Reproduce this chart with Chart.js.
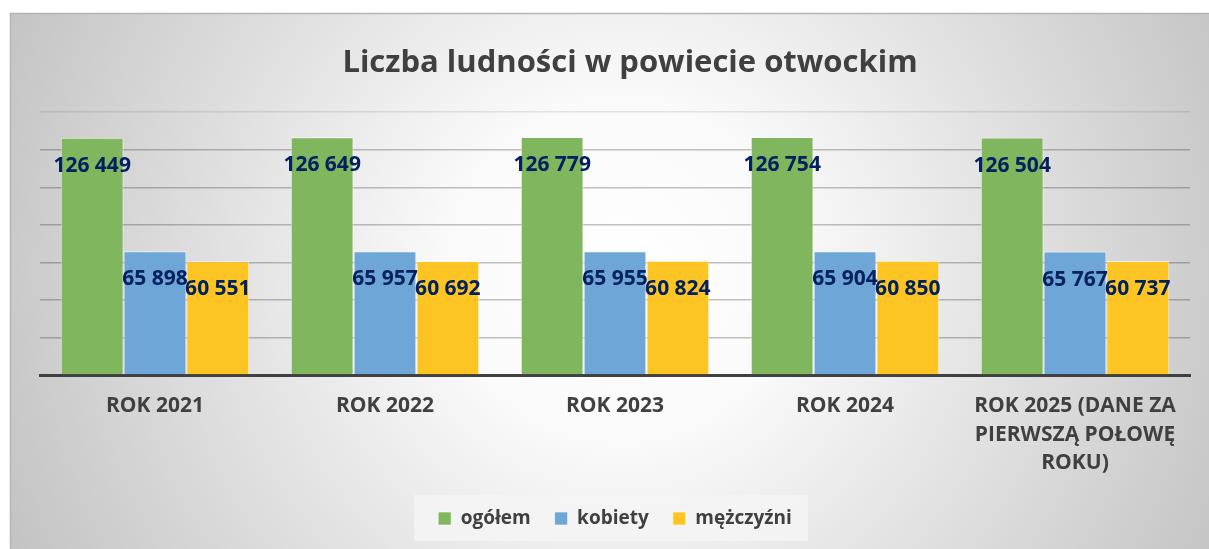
<!DOCTYPE html>
<html>
<head>
<meta charset="utf-8">
<script src="https://cdn.jsdelivr.net/npm/chart.js@4.4.1/dist/chart.umd.min.js"></script>
<style>
html,body{margin:0;padding:0;background:#ffffff;}
canvas{display:block;}
</style>
</head>
<body>
<canvas id="c" width="1209" height="549"></canvas>
<script>
// ---- data ----
const categories = ['ROK 2021', 'ROK 2022', 'ROK 2023', 'ROK 2024', ['ROK 2025 (DANE ZA', 'PIERWSZĄ POŁOWĘ', 'ROKU)']];
const seriesNames = ['ogółem', 'kobiety', 'mężczyźni'];
const ogolem = [126449, 126649, 126779, 126754, 126504];
const kobiety = [65898, 65957, 65955, 65904, 65767];
const mezczyzni = [60551, 60692, 60824, 60850, 60737];
const yMin = 0;
const yMax = 140000;
const yStep = 20000;
const titleText = 'Liczba ludności w powiecie otwockim';

const FONT = "'Open Sans', sans-serif";
Chart.defaults.font.family = FONT;

function fmt(v) {
  return String(v).replace(/\B(?=(\d{3})+(?!\d))/g, ' ');
}

const bgPlugin = {
  id: 'bgPlugin',
  beforeDraw(chart) {
    const {ctx, width, height} = chart;
    ctx.save();
    ctx.fillStyle = '#ffffff';
    ctx.fillRect(0, 0, width, height);
    const g = ctx.createRadialGradient(620, 270, 0, 620, 270, 680);
    g.addColorStop(0, '#ffffff');
    g.addColorStop(0.25, '#fafafa');
    g.addColorStop(1, '#c2c2c2');
    ctx.fillStyle = g;
    ctx.fillRect(10, 13, width - 10, height - 13);
    ctx.strokeStyle = '#b5b5b5';
    ctx.lineWidth = 1.5;
    ctx.strokeRect(10.5, 13.5, width, height);
    const lg = chart.legend;
    if (lg && lg.legendHitBoxes && lg.legendHitBoxes.length) {
      const hb = lg.legendHitBoxes;
      const l = hb[0].left - 24;
      const last = hb[hb.length - 1];
      const r = last.left + last.width + 16;
      const cy = lg.top + 33;
      ctx.fillStyle = 'rgba(244,244,244,0.85)';
      ctx.fillRect(l, cy - 23, r - l, 46);
    }
    ctx.restore();
  }
};

const titleShift = {
  id: 'titleShift',
  afterLayout(chart) {
    if (chart.titleBlock) {
      chart.titleBlock.left += 15;
      chart.titleBlock.right += 15;
    }
  }
};

const valueLabels = {
  id: 'valueLabels',
  afterDraw(chart) {
    const ctx = chart.ctx;
    ctx.save();
    ctx.font = "bold 21px " + FONT;
    ctx.fillStyle = '#002060';
    ctx.textAlign = 'center';
    ctx.textBaseline = 'middle';
    chart.data.datasets.forEach((ds, i) => {
      const meta = chart.getDatasetMeta(i);
      meta.data.forEach((bar, j) => {
        ctx.fillText(fmt(ds.data[j]), bar.x, bar.y + 28);
      });
    });
    ctx.restore();
  }
};

new Chart(document.getElementById('c'), {
  type: 'bar',
  data: {
    labels: categories,
    datasets: [
      {label: seriesNames[0], data: ogolem, backgroundColor: '#80b65e', borderColor: 'rgba(255,255,255,0.6)', borderWidth: 1},
      {label: seriesNames[1], data: kobiety, backgroundColor: '#6fa6d8', borderColor: 'rgba(255,255,255,0.6)', borderWidth: 1},
      {label: seriesNames[2], data: mezczyzni, backgroundColor: '#fcc524', borderColor: 'rgba(255,255,255,0.6)', borderWidth: 1}
    ]
  },
  options: {
    responsive: false,
    animation: false,
    devicePixelRatio: 1,
    layout: {padding: {left: 40, right: 19, top: 13, bottom: 11}},
    datasets: {bar: {categoryPercentage: 0.82, barPercentage: 1}},
    plugins: {
      title: {
        display: true,
        text: titleText,
        color: '#404040',
        font: {size: 31, weight: 'bold', family: FONT},
        padding: {top: 32, bottom: 30}
      },
      legend: {
        position: 'bottom',
        labels: {
          color: '#404040',
          font: {size: 19, weight: 'bold', family: FONT},
          boxWidth: 13,
          boxHeight: 13,
          padding: 24
        }
      },
      tooltip: {enabled: false}
    },
    scales: {
      x: {
        z: 2,
        grid: {display: true, color: 'rgba(0,0,0,0)', drawTicks: false},
        border: {display: true, color: '#404040', width: 3},
        ticks: {
          color: '#404040',
          font: {size: 21, weight: 'bold', lineHeight: 1.357, family: FONT},
          padding: 17,
          maxRotation: 0,
          autoSkip: false
        },
        afterFit(s) { s.height = 110; }
      },
      y: {
        z: 1,
        min: yMin,
        max: yMax,
        ticks: {display: false, stepSize: yStep},
        grid: {
          color: (c) => (c.tick && c.tick.value === yMax) ? 'rgba(0,0,0,0.09)' : 'rgba(0,0,0,0.24)',
          lineWidth: 1.5,
          drawTicks: false
        },
        border: {display: false}
      }
    }
  },
  plugins: [bgPlugin, titleShift, valueLabels]
});
</script>
</body>
</html>
